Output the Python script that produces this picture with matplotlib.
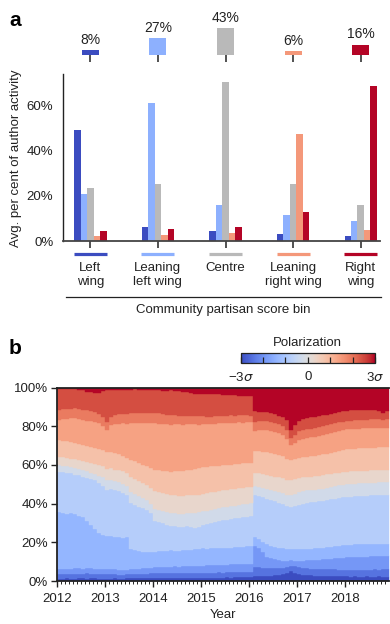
import numpy as np
import matplotlib
matplotlib.use("Agg")
import matplotlib.pyplot as plt
from matplotlib.colors import Normalize
from matplotlib.lines import Line2D
from matplotlib.ticker import FuncFormatter, FixedLocator
import matplotlib.colorbar as mcolorbar
from matplotlib.transforms import blended_transform_factory

plt.rcParams['font.family'] = ['Liberation Sans', 'DejaVu Sans']
plt.rcParams['mathtext.fontset'] = 'dejavusans'

# ---------------- panel a data ----------------
categories = ["Left\nwing", "Leaning\nleft wing", "Centre", "Leaning\nright wing", "Right\nwing"]
author_share = [8, 27, 43, 6, 16]          # % of authors in each bin
# average % of author activity in each community bin, per author group
activity_left = [49.0, 20.7, 23.4, 2.2, 4.4]
activity_lean_left = [6.2, 61.0, 25.1, 2.7, 5.3]
activity_centre = [4.4, 15.9, 70.1, 3.4, 6.2]
activity_lean_right = [3.0, 11.5, 25.1, 47.2, 12.8]
activity_right = [2.2, 8.8, 15.9, 4.9, 68.4]

# ---------------- panel b data ----------------
# monthly, Jan 2012 - Nov 2018; % of activity in polarization bins 1..k (12 bins, -3σ..3σ)
upto_bin01 = [1.2, 1.2, 1.3, 1.2, 1.2, 1.3, 1.3, 1.2, 1.3, 1.3, 1.2, 1.2,
              1.2, 1.2, 1.3, 1.2, 1.2, 1.3, 1.3, 1.4, 1.4, 1.3, 1.4, 1.5,
              1.5, 1.5, 1.6, 1.5, 1.6, 1.6, 1.5, 1.6, 1.7, 1.6, 1.6, 1.7,
              1.6, 1.7, 1.7, 1.8, 1.8, 1.8, 1.9, 1.8, 1.9, 2.0, 2.0, 2.1,
              2.1, 2.6, 2.6, 2.6, 2.7, 2.7, 2.9, 3.1, 3.5, 4.0, 5.0, 4.2,
              3.6, 3.2, 3.0, 2.9, 2.8, 2.7, 2.6, 2.6, 2.5, 2.5, 2.4, 2.4,
              2.4, 2.3, 2.4, 2.3, 2.3, 2.4, 2.3, 2.3, 2.4, 2.3, 2.3]
upto_bin02 = [3.6, 3.5, 3.7, 3.6, 3.8, 3.8, 3.7, 3.9, 3.8, 3.7, 3.6, 3.5,
              3.5, 3.4, 3.4, 3.3, 3.3, 3.4, 3.5, 3.5, 3.6, 3.7, 3.8, 3.9,
              4.0, 4.0, 4.1, 4.0, 4.1, 4.2, 4.1, 4.2, 4.2, 4.3, 4.2, 4.2,
              4.2, 4.3, 4.3, 4.3, 4.4, 4.3, 4.4, 4.5, 4.5, 4.5, 4.6, 4.6,
              4.6, 7.2, 7.0, 6.8, 6.6, 6.6, 6.6, 6.7, 6.9, 7.3, 8.0, 7.5,
              7.0, 6.7, 6.5, 6.4, 6.3, 6.2, 6.1, 6.1, 6.0, 6.0, 5.9, 5.9,
              5.8, 5.8, 5.9, 5.8, 5.9, 5.9, 5.9, 6.0, 5.9, 6.0, 6.0]
upto_bin03 = [6.2, 6.1, 6.3, 6.2, 6.5, 6.5, 6.4, 6.6, 6.5, 6.4, 6.2, 6.0,
              6.0, 6.2, 6.1, 5.9, 5.8, 5.9, 6.0, 6.1, 6.3, 6.5, 6.7, 6.9,
              7.0, 7.1, 7.3, 7.2, 7.4, 7.5, 7.4, 7.6, 7.7, 7.8, 7.9, 8.0,
              8.0, 8.1, 8.2, 8.3, 8.4, 8.5, 8.5, 8.6, 8.7, 8.8, 8.9, 9.0,
              9.0, 18.0, 17.0, 15.0, 12.5, 11.8, 11.2, 10.8, 10.5, 10.3, 11.0, 10.5,
              10.5, 10.5, 10.6, 10.7, 10.9, 11.0, 11.2, 11.4, 11.6, 11.8, 12.0, 12.1,
              12.2, 12.3, 12.4, 12.5, 12.5, 12.6, 12.7, 12.8, 12.8, 12.9, 13.0]
upto_bin04 = [35.7, 35.2, 34.8, 35.0, 34.4, 33.8, 33.0, 31.0, 29.0, 27.0, 25.0, 24.0,
              23.5, 23.0, 22.8, 22.6, 22.4, 22.6, 16.5, 16.0, 15.4, 15.0, 15.2, 15.0,
              15.0, 15.3, 15.6, 15.4, 15.8, 15.5, 15.7, 16.0, 16.2, 16.1, 16.4, 16.6,
              16.8, 16.7, 17.0, 17.1, 16.9, 17.2, 17.0, 17.3, 17.5, 17.6, 17.8, 18.0,
              18.0, 22.5, 21.5, 20.0, 19.0, 18.3, 17.6, 17.2, 17.0, 16.6, 16.5, 16.5,
              16.5, 16.5, 16.6, 16.7, 16.9, 17.0, 17.2, 17.5, 17.8, 18.0, 18.3, 18.5,
              18.6, 18.8, 18.9, 19.0, 19.0, 19.1, 19.2, 19.1, 19.2, 19.3, 19.3]
upto_bin05 = [56.5, 56.2, 55.8, 55.6, 55.0, 54.6, 54.0, 53.4, 52.6, 52.0, 50.5, 49.0,
              47.0, 47.3, 46.8, 46.5, 45.5, 44.5, 40.5, 39.5, 38.5, 37.5, 36.5, 35.0,
              31.0, 30.5, 29.8, 29.0, 28.6, 28.3, 28.0, 27.8, 28.2, 28.0, 27.5, 28.0,
              29.0, 29.5, 30.0, 30.6, 31.0, 31.3, 31.6, 32.0, 32.4, 32.6, 33.0, 33.3,
              33.5, 44.5, 44.0, 43.5, 42.5, 42.0, 41.2, 40.5, 40.0, 39.0, 38.3, 38.8,
              39.5, 40.0, 40.3, 40.6, 40.9, 41.2, 41.5, 41.8, 42.2, 42.5, 42.8, 43.2,
              43.5, 43.6, 43.8, 43.9, 44.0, 44.1, 44.2, 44.3, 44.4, 44.5, 44.5]
upto_bin06 = [60.0, 59.6, 59.3, 59.0, 58.4, 58.0, 57.2, 56.8, 56.0, 55.5, 54.5, 53.5,
              52.0, 52.2, 51.5, 51.0, 50.0, 49.0, 46.0, 45.0, 44.0, 43.0, 42.0, 40.0,
              37.0, 36.5, 36.0, 35.5, 35.2, 35.0, 34.8, 34.5, 35.0, 35.2, 35.0, 35.5,
              36.0, 36.4, 36.8, 37.2, 37.6, 38.0, 38.3, 38.6, 39.0, 39.3, 39.7, 40.0,
              40.2, 49.0, 48.5, 48.0, 47.5, 47.0, 46.5, 46.0, 45.5, 44.5, 44.4, 45.0,
              45.8, 46.5, 46.8, 47.0, 47.2, 47.5, 47.8, 48.2, 48.6, 49.0, 49.4, 49.7,
              50.0, 50.2, 50.3, 50.5, 50.6, 50.7, 50.8, 50.9, 51.0, 51.0, 51.0]
upto_bin07 = [64.3, 64.0, 63.7, 63.2, 62.9, 62.6, 62.0, 61.6, 61.0, 60.5, 60.0, 59.2,
              58.0, 58.2, 57.6, 57.4, 56.8, 55.8, 54.0, 52.5, 51.5, 50.5, 49.5, 48.0,
              46.5, 46.0, 45.5, 45.0, 44.6, 44.3, 44.0, 43.8, 44.2, 44.4, 44.3, 44.7,
              45.0, 45.4, 45.8, 46.2, 46.5, 47.0, 47.2, 47.5, 47.8, 48.0, 48.3, 48.5,
              48.6, 56.0, 56.0, 55.5, 55.0, 54.5, 54.0, 53.5, 53.0, 52.0, 52.0, 52.5,
              53.0, 53.5, 53.8, 54.0, 54.2, 54.5, 54.8, 55.1, 55.4, 55.7, 56.0, 56.3,
              56.5, 56.6, 56.8, 56.9, 57.0, 57.1, 57.2, 57.3, 57.4, 57.5, 57.5]
upto_bin08 = [73.0, 72.6, 72.2, 72.0, 71.4, 70.8, 70.3, 70.0, 69.4, 68.8, 68.2, 67.6,
              66.5, 66.8, 66.2, 65.6, 64.8, 63.8, 62.6, 61.8, 61.0, 60.2, 59.4, 58.5,
              57.5, 57.2, 57.0, 56.7, 56.5, 56.6, 56.8, 57.0, 57.3, 57.5, 57.8, 58.3,
              58.8, 59.0, 59.2, 59.4, 59.6, 59.8, 60.0, 60.2, 60.4, 60.6, 60.8, 61.0,
              61.0, 67.0, 67.0, 66.8, 66.5, 66.0, 65.5, 65.0, 64.5, 63.0, 62.6, 63.0,
              63.5, 64.0, 64.2, 64.5, 64.8, 65.0, 65.4, 65.8, 66.2, 66.6, 67.0, 67.5,
              68.0, 68.2, 68.4, 68.5, 68.6, 68.7, 68.8, 68.9, 69.0, 69.0, 69.0]
upto_bin09 = [83.4, 83.6, 83.8, 84.0, 84.0, 83.6, 83.2, 82.8, 82.5, 82.2, 81.5, 80.0,
              78.0, 80.5, 81.0, 81.2, 81.5, 81.3, 81.6, 81.5, 81.8, 81.6, 81.5, 81.6,
              81.5, 81.3, 81.0, 81.2, 80.8, 81.0, 81.0, 80.8, 81.0, 81.2, 81.0, 80.8,
              81.0, 81.2, 81.0, 81.3, 81.5, 81.4, 81.6, 81.5, 81.8, 82.0, 81.8, 82.0,
              82.0, 77.5, 78.0, 78.0, 78.0, 77.5, 77.0, 76.5, 75.5, 73.5, 70.4, 71.5,
              73.0, 73.5, 74.0, 74.3, 74.6, 75.0, 75.5, 76.0, 76.5, 77.0, 77.5, 78.0,
              78.3, 78.5, 78.6, 78.8, 78.9, 79.0, 79.0, 79.0, 79.0, 79.0, 79.0]
upto_bin10 = [88.6, 88.8, 89.0, 89.0, 89.2, 88.8, 88.5, 88.2, 88.0, 87.5, 86.5, 84.5,
              82.0, 85.0, 85.8, 86.2, 86.5, 86.4, 86.6, 86.8, 87.0, 86.8, 86.9, 87.0,
              87.0, 86.6, 86.2, 86.0, 85.8, 85.6, 85.5, 85.4, 85.5, 85.5, 85.4, 85.5,
              85.2, 85.0, 85.0, 85.2, 85.4, 85.2, 85.5, 85.6, 85.5, 85.6, 85.8, 85.6,
              85.5, 82.0, 82.5, 82.5, 82.5, 82.0, 81.5, 81.0, 80.0, 78.0, 73.8, 75.5,
              77.5, 78.0, 78.5, 78.8, 79.0, 79.5, 80.0, 80.5, 81.0, 81.5, 82.0, 82.3,
              82.6, 82.8, 83.0, 83.2, 83.3, 83.4, 83.5, 83.5, 83.5, 83.0, 83.5]
upto_bin11 = [99.0, 99.2, 99.0, 99.1, 99.0, 98.8, 98.6, 97.8, 97.5, 97.2, 97.4, 98.0,
              98.5, 98.6, 98.8, 98.7, 98.9, 98.8, 98.9, 99.0, 98.8, 98.7, 98.8, 98.7,
              98.5, 98.6, 98.4, 98.3, 98.5, 98.2, 98.0, 97.8, 97.5, 97.0, 96.5, 96.8,
              96.5, 96.8, 96.6, 96.4, 96.5, 96.2, 96.0, 96.2, 96.0, 95.8, 95.6, 95.5,
              95.5, 88.0, 87.5, 87.5, 87.5, 87.0, 86.5, 85.5, 84.5, 83.0, 78.0, 80.5,
              82.5, 83.5, 84.0, 84.5, 85.0, 85.3, 85.6, 86.0, 86.5, 87.0, 87.5, 87.8,
              88.0, 88.2, 88.4, 88.5, 88.6, 88.6, 88.5, 88.3, 87.8, 87.0, 87.8]
year_ticks = [2012, 2013, 2014, 2015, 2016, 2017, 2018]

# ---------------- figure ----------------
W, H = 390, 624
fig = plt.figure(figsize=(W / 100, H / 100), dpi=100)


def px_rect(x0, y0, x1, y1):
    """Axes rectangle from pixel box measured from the top-left corner."""
    return [x0 / W, 1 - y1 / H, (x1 - x0) / W, (y1 - y0) / H]


cmap = plt.get_cmap('coolwarm')
bar_colors = [cmap(0.0), cmap(0.25), '#b9b9b9', cmap(0.75), cmap(1.0)]
groups = [activity_left, activity_lean_left, activity_centre,
          activity_lean_right, activity_right]
fs = 9.5
ink = '#222222'

# ---- panel a: activity bars ----
ax = fig.add_axes(px_rect(63, 74, 380, 241))
xs = np.arange(len(categories))
bw = 0.096
offsets = (np.arange(5) - 2) * bw
for j in range(5):
    vals = np.array([g[j] for g in groups]) / 100
    ax.bar(xs + offsets[j], vals, width=bw, color=bar_colors[j], linewidth=0)
ax.set_xlim(-0.404, 4.285)
ax.set_ylim(0, 0.737)
ax.set_yticks([0, 0.2, 0.4, 0.6])
ax.yaxis.set_major_formatter(FuncFormatter(lambda v, p: f"{v * 100:.0f}%"))
ax.tick_params(axis='y', length=0, pad=7, labelsize=fs, colors=ink)
ax.set_xticks(xs)
ax.set_xticklabels([])
ax.tick_params(axis='x', length=5, width=1.1, direction='out', color=ink)
for s in ('top', 'right'):
    ax.spines[s].set_visible(False)
ax.spines['left'].set_linewidth(1.0)
ax.spines['left'].set_color(ink)
ax.spines['bottom'].set_linewidth(1.3)
ax.spines['bottom'].set_color('#444444')

trans = blended_transform_factory(ax.transData, ax.transAxes)
for i, lab in enumerate(categories):
    ax.plot([i - 0.245, i + 0.245], [-0.078, -0.078], transform=trans,
            color=bar_colors[i], lw=2.3, solid_capstyle='butt', clip_on=False)
    ax.text(i, -0.125, lab, transform=trans, ha='center', va='top',
            fontsize=fs, linespacing=1.25, color=ink)
fig.add_artist(Line2D([66 / W, 381 / W], [1 - 297 / H, 1 - 297 / H],
                      color=ink, lw=0.9))
fig.text(223 / W, 1 - 310 / H, "Community partisan score bin", ha='center',
         va='center', fontsize=fs, color=ink)
fig.text(16 / W, 1 - 158 / H, "Avg. per cent of author activity", rotation=90,
         ha='center', va='center', fontsize=fs, color=ink)

# ---- panel a: share of authors ----
axt = fig.add_axes(px_rect(63, 5, 380, 55))
axt.bar(xs, author_share, width=0.25, color=bar_colors, linewidth=0)
for i, v in enumerate(author_share):
    axt.annotate(f"{v}%", (i, v), xytext=(0, 2.5), textcoords='offset points',
                 ha='center', va='bottom', fontsize=10, color=ink)
axt.set_xlim(ax.get_xlim())
axt.set_ylim(0, 79.6)
axt.set_xticks(xs)
axt.set_xticklabels([])
axt.set_yticks([])
axt.tick_params(axis='x', length=5, width=1.1, direction='out', color=ink)
for s in axt.spines.values():
    s.set_visible(False)
axt.patch.set_visible(False)

fig.text(15 / W, 1 - 20 / H, "a", fontsize=15, fontweight='bold',
         ha='center', va='center', color='black')
fig.text(15 / W, 1 - 348 / H, "b", fontsize=15, fontweight='bold',
         ha='center', va='center', color='black')

# ---- panel b: stacked polarization shares ----
upto = [upto_bin01, upto_bin02, upto_bin03, upto_bin04, upto_bin05, upto_bin06,
        upto_bin07, upto_bin08, upto_bin09, upto_bin10, upto_bin11]
n = len(upto_bin01)
cum = np.vstack([np.zeros(n)] + [np.array(u, float) for u in upto] + [np.full(n, 100.0)])
shares = np.diff(cum, axis=0)
nbins = shares.shape[0]
t = 2012 + np.arange(n + 1) / 12

axb = fig.add_axes(px_rect(57, 387.5, 389, 581))
base = np.zeros(n)
for k in range(nbins):
    top = base + shares[k]
    col = cmap(k / (nbins - 1))
    axb.fill_between(t, np.append(base, base[-1]) / 100,
                     np.append(top, top[-1]) / 100, step='post',
                     facecolor=col, edgecolor=col, linewidth=0.3)
    base = top
axb.set_xlim(t[0], t[-1])
axb.set_ylim(0, 1)
axb.set_yticks(np.linspace(0, 1, 6))
axb.yaxis.set_major_formatter(FuncFormatter(lambda v, p: f"{v * 100:.0f}%"))
axb.xaxis.set_major_locator(FixedLocator(year_ticks))
axb.set_xticklabels([str(y) for y in year_ticks])
axb.xaxis.set_minor_locator(FixedLocator(2012 + np.arange(n) / 12))
axb.tick_params(axis='both', which='major', length=4, width=1.0, labelsize=fs,
                colors=ink, pad=2.5)
axb.tick_params(axis='x', which='major', pad=4.5)
axb.tick_params(axis='x', which='minor', length=2, width=0.7, color=ink)
axb.spines['right'].set_visible(False)
for s in ('top', 'left', 'bottom'):
    axb.spines[s].set_linewidth(1.3)
    axb.spines[s].set_color(ink)
axb.set_xlabel("Year", fontsize=fs, color=ink, labelpad=3)

# ---- colour bar ----
cax = fig.add_axes(px_rect(240.7, 353, 375, 362.7))
cb = mcolorbar.ColorbarBase(cax, cmap=cmap, norm=Normalize(-3, 3),
                            orientation='horizontal', ticks=list(range(-3, 4)))
cb.set_ticklabels(['\u22123$\\sigma$', '', '', '0', '', '', '3$\\sigma$'])
cb.outline.set_linewidth(0.9)
cb.outline.set_edgecolor(ink)
cax.tick_params(direction='in', length=4, width=0.9, color=ink, labelsize=fs,
                pad=6, labelcolor=ink)
fig.text(307.5 / W, 1 - 343 / H, "Polarization", ha='center', va='center',
         fontsize=fs, color=ink)

fig.savefig("out.png", dpi=100)
